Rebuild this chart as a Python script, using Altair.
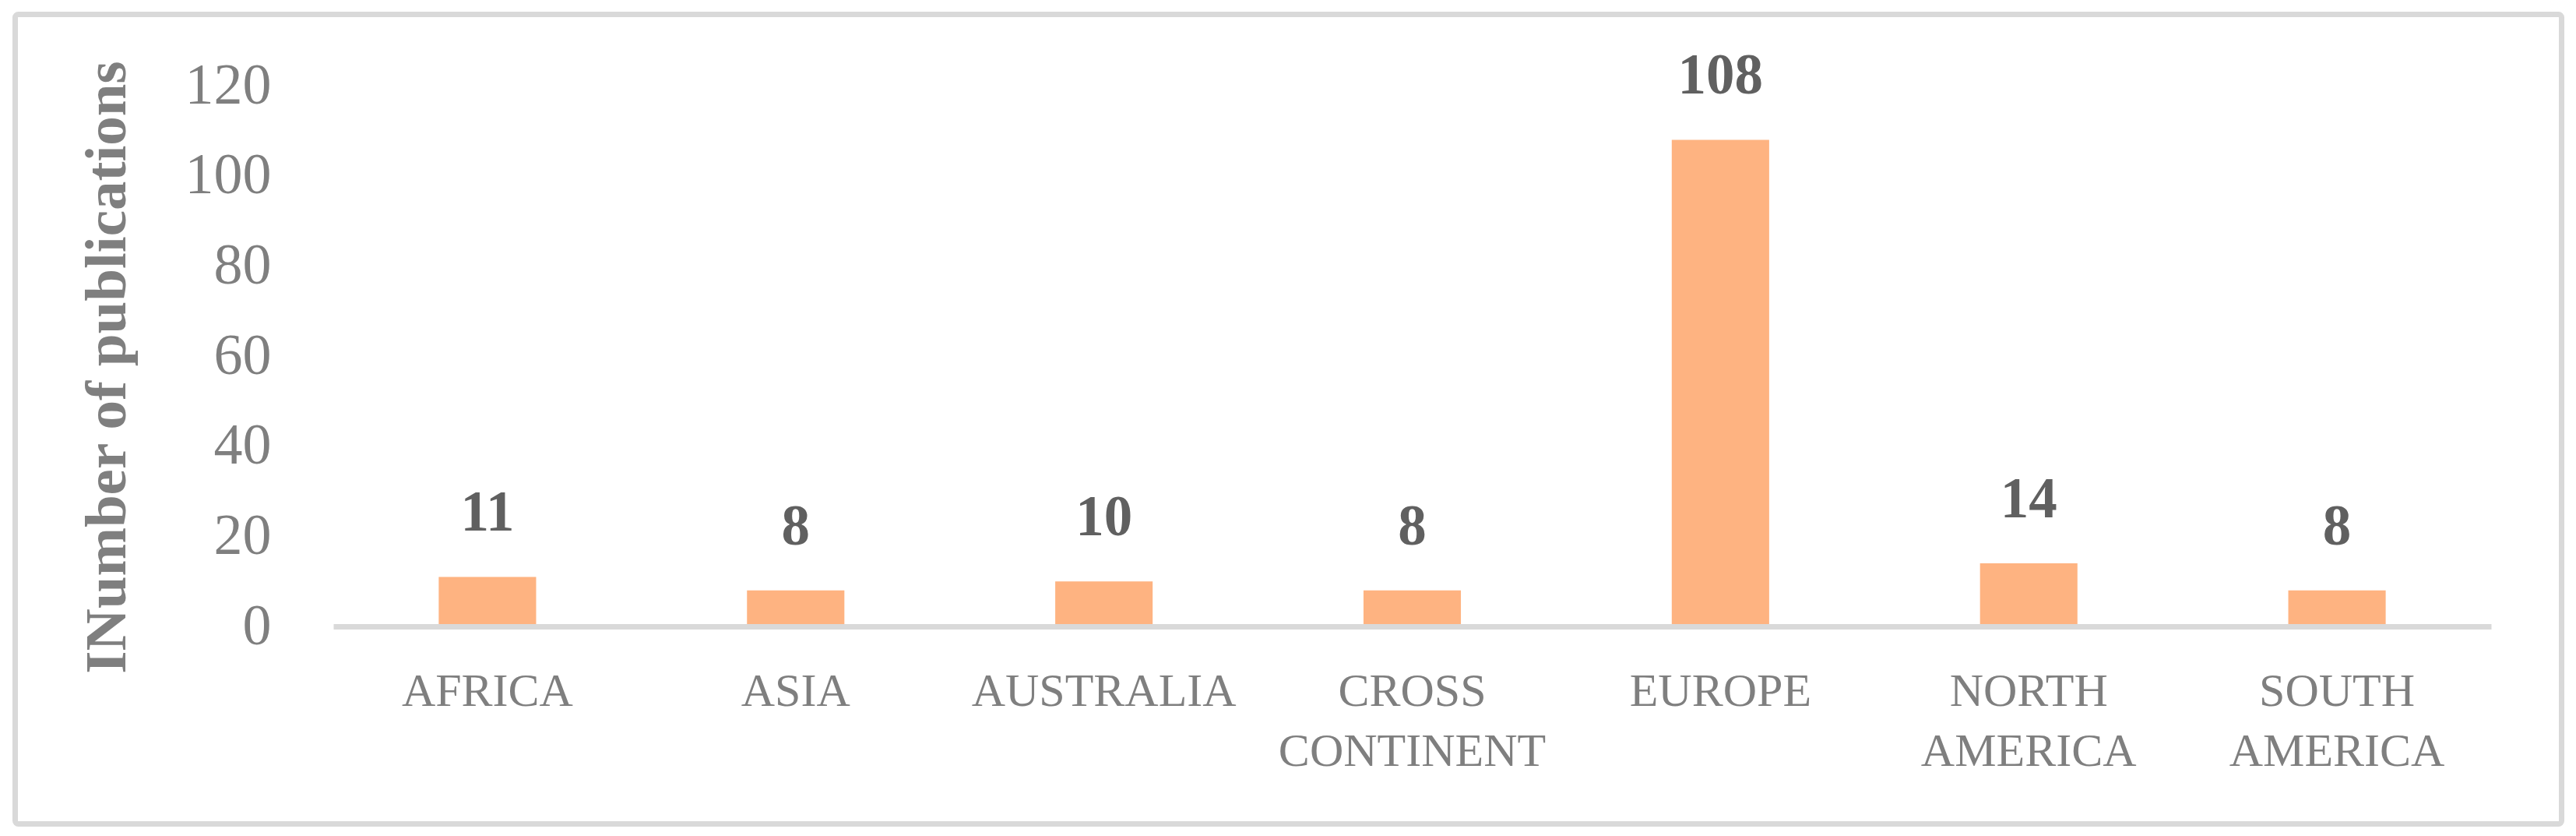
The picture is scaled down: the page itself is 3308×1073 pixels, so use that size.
import altair as alt
import pandas as pd

regions = ["AFRICA", "ASIA", "AUSTRALIA", "CROSS CONTINENT", "EUROPE",
           "NORTH AMERICA", "SOUTH AMERICA"]
publications = [11, 8, 10, 8, 108, 14, 8]
y_ticks = [0, 20, 40, 60, 80, 100, 120]
y_title = "INumber of publications"

df = pd.DataFrame({"region": regions, "count": publications})

FONT = "Liberation Serif"
GRAY = "#7F7F7F"
W, H = 2771, 694

x_enc = alt.X(
    "region:N", sort=regions,
    scale=alt.Scale(paddingInner=0.684, paddingOuter=0.342),
    axis=alt.Axis(
        title=None, labelAngle=0, labelExpr="split(datum.label, ' ')",
        labelFont=FONT, labelFontSize=60, labelColor=GRAY,
        labelBaseline="top", labelPadding=54, labelLineHeight=77,
        labelLimit=0, labelOverlap=False,
        ticks=False, tickSize=0, domainColor="#D9D9D9", domainWidth=7,
        zindex=1,
    ),
)
y_enc = alt.Y(
    "count:Q", scale=alt.Scale(domain=[0, 120]),
    axis=alt.Axis(
        values=y_ticks, title=y_title, titleFont=FONT, titleFontSize=75,
        titleFontWeight="bold", titleColor=GRAY, titleAngle=270,
        titleX=-252, titleY=361, titleBaseline="bottom", titleAlign="center",
        labelFont=FONT, labelFontSize=74, labelColor=GRAY, labelPadding=80,
        ticks=False, tickSize=0, domain=False, grid=False,
    ),
)

base = alt.Chart(df)
bars = base.mark_bar(color="#FEB381").encode(x=x_enc, y=y_enc)
labels = base.mark_text(
    dy=-59, baseline="alphabetic", fontWeight="bold", fontSize=73,
    font=FONT, color="#606060",
).encode(x=alt.X("region:N", sort=regions), y="count:Q", text="count:Q")

border = alt.Chart(pd.DataFrame({"a": [0]})).mark_rect(
    fillOpacity=0, stroke="#D9D9D9", strokeWidth=7, cornerRadius=4
).encode(
    x=alt.value(-408.5), x2=alt.value(2861.5),
    y=alt.value(-91.5), y2=alt.value(947.5),
)

chart = alt.layer(border, bars, labels).properties(
    width=W, height=H,
    padding={"left": 420, "top": 102, "right": 101, "bottom": 261},
    autosize=alt.AutoSizeParams(type="none"),
    background="white",
).configure_view(stroke=None)

chart.save("out.html", embed_options={"renderer": "svg", "actions": False})
